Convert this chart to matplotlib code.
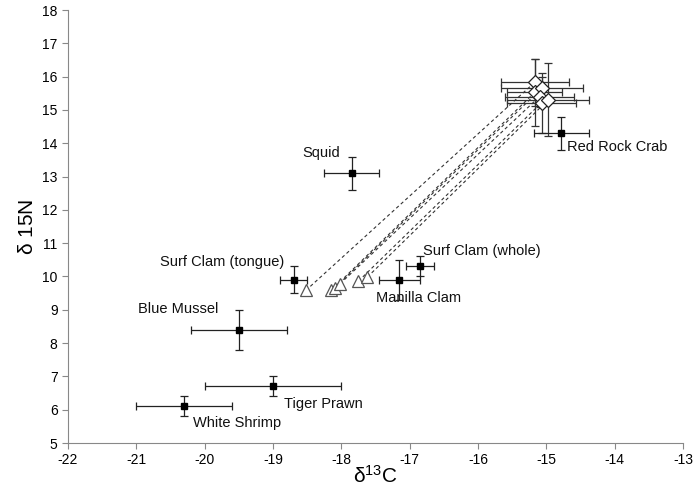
import matplotlib
matplotlib.use('Agg')
import matplotlib.pyplot as plt

plt.rcParams['font.family'] = ['Liberation Sans', 'DejaVu Sans']
plt.rcParams['axes.unicode_minus'] = False

# 食物样本：δ13C, δ15N 及误差
names = ['Squid', 'Surf Clam (tongue)', 'Surf Clam (whole)', 'Manilla Clam',
         'Blue Mussel', 'Tiger Prawn', 'White Shrimp', 'Red Rock Crab']
prey_c = [-17.85, -18.7, -16.85, -17.15, -19.5, -19.0, -20.3, -14.78]
prey_n = [13.1, 9.9, 10.3, 9.9, 8.4, 6.7, 6.1, 14.3]
prey_cerr = [0.4, 0.2, 0.2, 0.3, 0.7, 1.0, 0.7, 0.4]
prey_nerr = [0.5, 0.4, 0.3, 0.6, 0.6, 0.3, 0.3, 0.5]

# 标签位置
label_c = [-18.3, -19.75, -15.95, -16.87, -20.39, -18.26, -19.53, -13.97]
label_n = [13.71, 10.44, 10.77, 9.35, 9.02, 6.17, 5.6, 13.89]

# 捕食者（菱形）与对应三角形
pred_c = [-15.17, -15.17, -15.07, -15.1, -15.07, -14.97]
pred_n = [15.83, 15.53, 15.65, 15.4, 15.22, 15.31]
pred_cerr = [0.5, 0.4, 0.6, 0.5, 0.5, 0.6]
pred_nerr = [0.7, 1.0, 0.35, 0.3, 0.9, 1.1]

tri_c = [-18.52, -18.15, -18.1, -18.02, -17.75, -17.62]
tri_n = [9.58, 9.58, 9.65, 9.78, 9.86, 9.98]

fig = plt.figure(figsize=(6.97, 4.88), dpi=100)
ax = fig.add_axes([0.0976, 0.0922, 0.8824, 0.8873])

# 虚线连接
for tc, tn, pc, pn in zip(tri_c, tri_n, pred_c, pred_n):
    ax.plot([tc, pc], [tn, pn], linestyle=(0, (3, 2.5)), color='#333333', lw=0.8, zorder=1)

ax.errorbar(pred_c, pred_n, xerr=pred_cerr, yerr=pred_nerr, fmt='D',
            mfc='white', mec='#222222', ms=7.5, mew=0.9, ecolor='#333333',
            elinewidth=0.9, capsize=3, capthick=0.9, zorder=3)

ax.plot(tri_c, tri_n, '^', mfc='white', mec='#555555', ms=9, mew=0.9,
        linestyle='none', zorder=2)

ax.errorbar(prey_c, prey_n, xerr=prey_cerr, yerr=prey_nerr, fmt='s',
            mfc='black', mec='black', ms=4.5, ecolor='#222222',
            elinewidth=0.9, capsize=3, capthick=0.9, zorder=4)

for name, lc, ln in zip(names, label_c, label_n):
    ax.text(lc, ln, name, ha='center', va='center', fontsize=10.5, color='#111111')

ax.set_xlim(-22, -13)
ax.set_ylim(5, 18)
ax.set_xticks(range(-22, -12))
ax.set_yticks(range(5, 19))
ax.tick_params(labelsize=10, color='#888888', length=4, direction='out')

for s in ['top', 'right']:
    ax.spines[s].set_visible(False)
for s in ['left', 'bottom']:
    ax.spines[s].set_color('#888888')

ax.set_xlabel(r'$\mathregular{\delta^{13}C}$', fontsize=15, labelpad=-2)
ax.set_ylabel(r'$\mathregular{\delta}$ 15N', fontsize=15, labelpad=4)

fig.savefig('out.png', dpi=100)
